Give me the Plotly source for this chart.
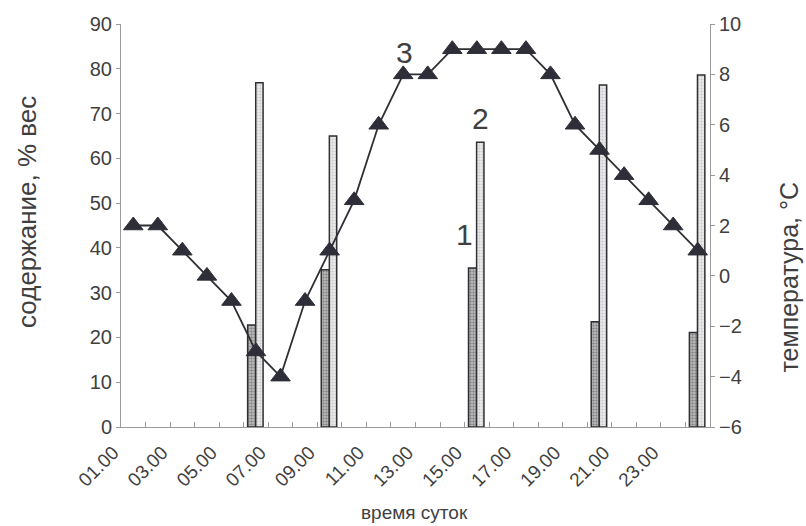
import plotly.graph_objects as go

# ---- data ----
hours = ["%02d.00" % h for h in range(1, 25)]
tick_labels = [h if int(h[:2]) % 2 == 1 else "" for h in hours]

temperature = [2, 2, 1, 0, -1, -3, -4, -1, 1, 3, 6, 8, 8, 9, 9, 9, 9, 8, 6, 5, 4, 3, 2, 1]

bar_hours = ["06.00", "09.00", "15.00", "20.00", "24.00"]
content_1 = [22.8, 35.1, 35.5, 23.5, 21.1]
content_2 = [76.9, 65.0, 63.6, 76.4, 78.6]

TXT = "#3f3f3f"
AX = "#9a9a9a"
FONT = "Liberation Sans, Arial, sans-serif"

fig = go.Figure()

fig.add_trace(go.Bar(
    x=bar_hours, y=content_1, yaxis="y", width=0.33, offset=-0.34,
    marker=dict(color="#b8b8b8", line=dict(color="#2f2f35", width=1.5),
                pattern=dict(shape=".", fgcolor="#4a4a4a", bgcolor="#c4c4c4", size=3, solidity=0.5)),
    showlegend=False,
))
fig.add_trace(go.Bar(
    x=bar_hours, y=content_2, yaxis="y", width=0.3, offset=-0.01,
    marker=dict(color="#e4e4e4", line=dict(color="#2f2f35", width=1.5),
                pattern=dict(shape=".", fgcolor="#a8a8a8", bgcolor="#eaeaea", size=3, solidity=0.35)),
    showlegend=False,
))
fig.add_trace(go.Scatter(
    x=hours, y=temperature, yaxis="y2", mode="lines+markers",
    line=dict(color="#2f2f35", width=1.8),
    marker=dict(symbol="triangle-up", size=17, color="#2e2e38", line=dict(color="#2e2e38", width=1)),
    showlegend=False,
))

fig.update_layout(
    width=806, height=526,
    margin=dict(l=121, r=96, t=24, b=99),
    paper_bgcolor="white", plot_bgcolor="white",
    barmode="overlay",
    font=dict(family=FONT, color=TXT),
    xaxis=dict(
        type="category", categoryorder="array", categoryarray=hours,
        range=[-0.5, 23.5],
        tickmode="array", tickvals=hours, ticktext=tick_labels,
        tickson="boundaries", ticks="inside", ticklen=5, tickcolor=AX,
        tickangle=-45, ticklabelshift=-20, ticklabelstandoff=6,
        tickfont=dict(size=19, color=TXT),
        showline=True, linecolor=AX, linewidth=1,
        showgrid=False, zeroline=False,
    ),
    yaxis=dict(
        range=[0, 90], dtick=10, tick0=0,
        ticks="outside", ticklen=4, tickcolor=AX,
        tickfont=dict(size=20, color=TXT),
        showline=True, linecolor=AX, linewidth=1,
        showgrid=False, zeroline=False,
    ),
    yaxis2=dict(
        range=[-6, 10], dtick=2, tick0=-6, overlaying="y", side="right",
        ticks="outside", ticklen=4, tickcolor=AX,
        tickfont=dict(size=20, color=TXT),
        showline=True, linecolor=AX, linewidth=1,
        showgrid=False, zeroline=False,
    ),
    annotations=[
        dict(text="содержание, % вес", textangle=-90, xref="paper", yref="paper",
             x=-0.16, y=0.533, xanchor="center", yanchor="middle", showarrow=False,
             font=dict(size=26, color=TXT)),
        dict(text="температура, °C", textangle=-90, xref="paper", yref="paper",
             x=1.135, y=0.372, xanchor="center", yanchor="middle", showarrow=False,
             font=dict(size=25, color=TXT)),
        dict(text="время суток", xref="paper", yref="paper",
             x=0.499, y=-0.213, xanchor="center", yanchor="middle", showarrow=False,
             font=dict(size=19, color=TXT)),
        dict(text="3", xref="x", yref="y2", x=hours.index("12.00"), y=8.85, xshift=1,
             showarrow=False, font=dict(size=30, color=TXT)),
        dict(text="2", xref="x", yref="y", x=hours.index("15.00"), y=69, xshift=4,
             showarrow=False, font=dict(size=30, color=TXT)),
        dict(text="1", xref="x", yref="y", x=hours.index("15.00"), y=42.9, xshift=-12,
             showarrow=False, font=dict(size=30, color=TXT)),
    ],
)

fig.write_html("out.html")
